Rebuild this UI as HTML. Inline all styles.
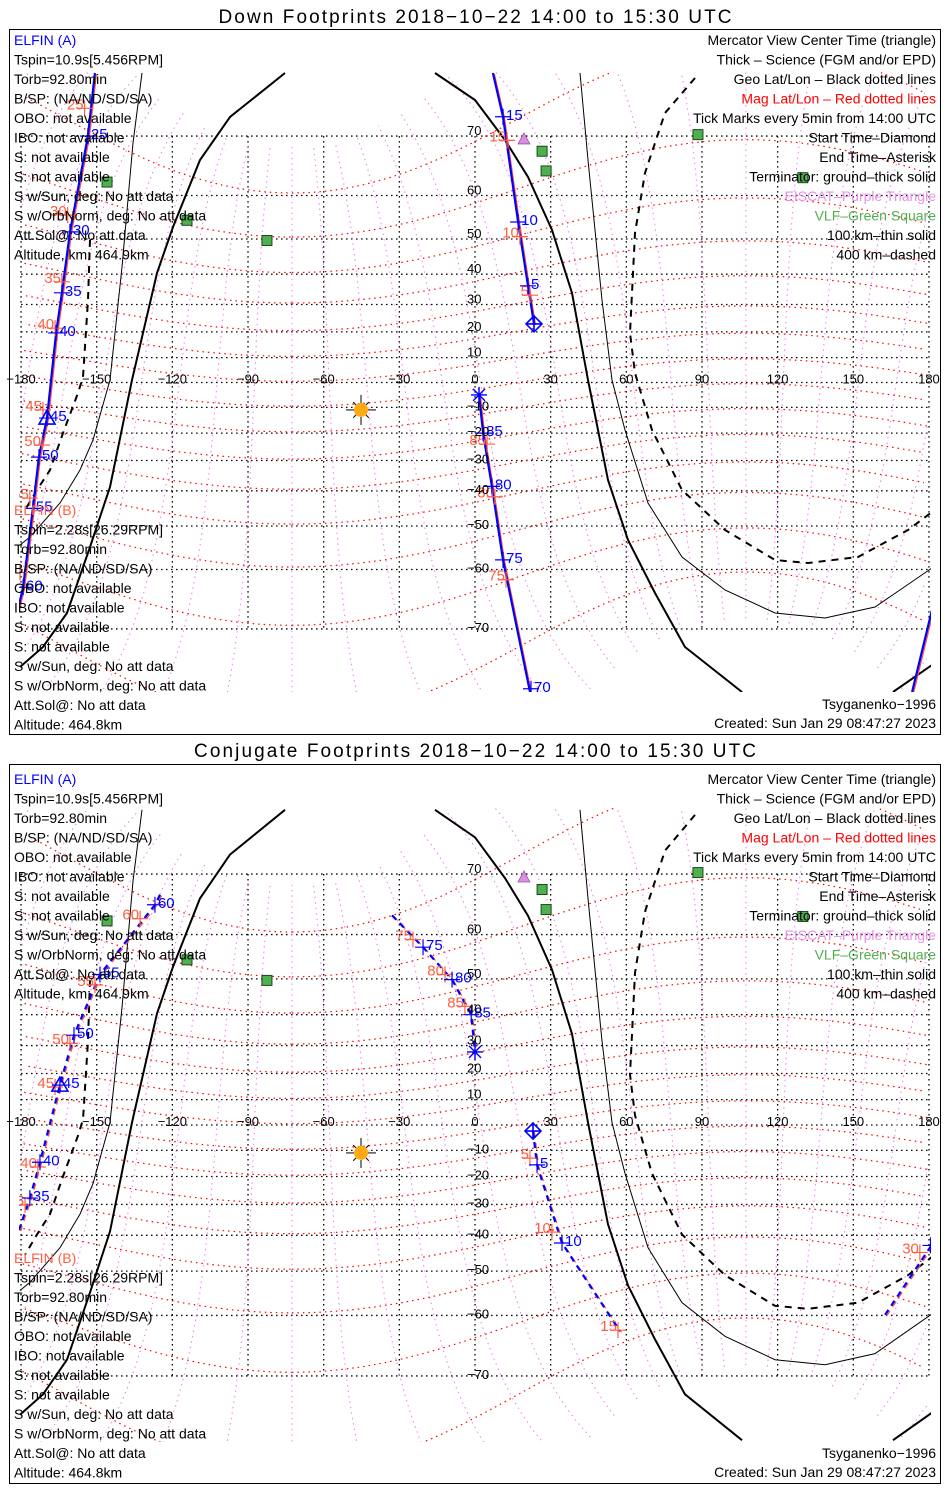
<!DOCTYPE html>
<html><head><meta charset="utf-8"><style>
html,body{margin:0;padding:0;background:#fff;overflow:hidden}
svg{display:block}
svg text{font-family:"Liberation Sans",sans-serif}
</style></head><body>
<svg id="s" width="950" height="1500" xmlns="http://www.w3.org/2000/svg">
<rect x="0" y="0" width="950" height="1500" fill="#fff"/>
<defs>
<clipPath id="c1"><rect x="19" y="72" width="912" height="620"/></clipPath>
<clipPath id="c2"><rect x="19" y="808" width="912" height="634"/></clipPath>
</defs>
<g id="p1">
<text x="475" y="23" text-anchor="middle" font-size="19" textLength="513">Down Footprints 2018−10−22 14:00 to 15:30 UTC</text>
<rect x="9.5" y="29.5" width="931" height="705" fill="none" stroke="#000"/>
<g id="m1" clip-path="url(#c1)"></g>
</g>
<g id="p2">
<text x="475" y="757" text-anchor="middle" font-size="19" textLength="562">Conjugate Footprints 2018−10−22 14:00 to 15:30 UTC</text>
<rect x="9.5" y="764.5" width="931" height="719" fill="none" stroke="#000"/>
<g id="m2" clip-path="url(#c2)"></g>
</g>
<g id="txt"></g>
</svg>
<script>
// ---------- data (lon/lat) ----------
const dA1Lon=[7.1,11.1,17.1,21.0,23.4], dA1Lat=[77.1,72.5,54.2,36.3,23.0];
const dA1TLbl=['15','10','5'], dA1TLon=[11.1,17.1,21.0], dA1TLat=[72.5,54.2,36.3];
const dA2Lon=[1.6,3.2,6.7,11.1,21.8], dA2Lat=[-5,-20,-38.6,-58,-77.1];
const dA2TLbl=['85','80','75','70'], dA2TLon=[3.2,6.7,11.1,22.2], dA2TLat=[-20,-38.6,-58,-76.8];
const dA3Lon=[-150.7,-153.5,-160.6,-163.8,-166.1,-169.7,-172.9,-175.3,-179.2,-180.8], dA3Lat=[77.1,70,51.8,34,19.6,-14.2,-28.8,-45.2,-63.4,-66.4];
const dA3TLbl=['25','30','35','40','45','50','55','60'], dA3TLon=[-153.5,-160.6,-163.8,-166.1,-169.7,-172.9,-175.3,-179.2], dA3TLat=[70,51.8,34,19.6,-14.2,-28.8,-45.2,-63.4];
const dA4Lon=[173.3,181.2], dA4Lat=[-77.1,-67.2];
const dBTLbl=['15','10','5','85','80','75','25','30','35','40','45','50','55','60'];
const dBTLon=[12.7,17.8,21.8,4.8,7.9,12.3,-154.8,-161.5,-163.8,-166.5,-171.3,-171.7,-176.5,-180.4];
const dBTLat=[69.4,50.6,33.2,-24.1,-41.8,-62,73.5,55.8,37.6,21.4,-11,-24.5,-42.2,-60.6];
const cA1Lon=[-124.9,-126.9,-148.7,-159,-164.6,-172.5,-176.5,-180.8], cA1Lat=[67,65.4,51.1,33.5,15.6,-14.6,-27.8,-38.4];
const cA1TLbl=['60','55','50','45','40','35'], cA1TLon=[-126.9,-148.7,-159,-164.6,-172.5,-176.5], cA1TLat=[65.4,51.1,33.5,15.6,-14.6,-27.8];
const cA2Lon=[-32.9,-20.6,-9.1,-1.5,0], cA2Lat=[63.6,57.4,49.8,40,27.8];
const cA2TLbl=['75','80','85'], cA2TLon=[-20.6,-9.1,-1.5], cA2TLat=[57.4,49.8,40];
const cA3Lon=[23,24.6,34.5,57.5], cA3Lat=[-2.4,-15.6,-42.3,-63];
const cA3TLbl=['5','10'], cA3TLon=[24.6,34.5], cA3TLat=[-15.6,-42.3];
const cA4Lon=[162.6,182.4], cA4Lat=[-59.9,-41.4];
const cA4TLbl=['30'], cA4TLon=[180.6], cA4TLat=[-43];
const cBTLbl=['60','55','50','45','40','35','75','80','85','5','10','15','30'];
const cBTLon=[-132.8,-150.7,-160.6,-166.5,-173.3,-178.4,-24.6,-11.9,-4,21.8,30.5,56.7,176.4];
const cBTLat=[63,48.4,30.8,14.9,-16.4,-30.2,59,51.1,42.5,-13,-39,-62.8,-45];
const vlfLon=[-145.9,-114.2,-82.5,26.6,28.2,88.4,130], vlfLat=[62.6,54.6,49.6,67.8,64.6,70.2,63.4];
const eisLon=[16.7,19.4], eisLat=[78,69.6];
const sunLon=-45.2, sunLat=-11.0;
// terminator reference geometry (traced on the down panel, px)
const termThick=[[[285,73],[230,117],[200,160],[173,227],[157,273],[132,380],[110,487],[90,547],[67,613],[43,647],[20,667]],
 [[435,73],[475,100],[505,140],[528,177],[552,230],[572,293],[588,380],[608,480],[628,540],[655,593],[685,647],[742,692]],
 [[893,692],[932,665]]];
const termThin=[[[142,73],[133,143],[122,267],[110,380],[93,440],[80,470],[60,503],[30,537],[20,545]],
 [[580,73],[588,160],[602,300],[612,380],[625,430],[648,503],[682,557],[725,590],[775,613],[825,618],[875,607],[932,568]]];
const termDash=[[[90,240],[88,300],[83,377],[78,393],[63,433],[50,470],[37,490],[25,510]],
 [[695,78],[665,113],[645,173],[635,233],[630,333],[635,373],[652,430],[682,490],[725,530],[775,560],[808,563],[858,557],[908,530],[932,512]]];
const latTicks=[70,60,50,40,30,20,10,0,-10,-20,-30,-40,-50,-60,-70];
const lonTicks=[-180,-150,-120,-90,-60,-30,0,30,60,90,120,150,180];

const NS='http://www.w3.org/2000/svg';
function mk(tag,a,p){const e=document.createElementNS(NS,tag);for(const k in a)e.setAttribute(k,a[k]);p.appendChild(e);return e;}
const P1={y0:382.5,k:142,g:document.getElementById('m1'),lab:document.getElementById('p1')};
const P2={y0:1125,k:144.6,g:document.getElementById('m2'),lab:document.getElementById('p2')};
function X(lon){return 475+lon*2.522;}
function Y(P,lat){lat=Math.max(-79,Math.min(79,lat));return P.y0-P.k*Math.log(Math.tan(Math.PI/4+lat*Math.PI/360));}
function pxLon(x){return (x-475)/2.522;}
function pxLat(y){return (2*Math.atan(Math.exp((382.5-y)/142))-Math.PI/2)*180/Math.PI;}
function line(P,lons,lats,st,name){
  const segs=[[]];
  for(let i=0;i<lons.length;i++){
    if(i>0&&Math.abs(lons[i]-lons[i-1])>180)segs.push([]);
    segs[segs.length-1].push(X(lons[i]).toFixed(1)+','+Y(P,lats[i]).toFixed(1));
  }
  segs.forEach(s=>{if(s.length<2)return;
    const e=mk('polyline',Object.assign({points:s.join(' '),fill:'none'},st),P.g);
    
    
  });
}
function dipole(phm,lam){
  const a=(90-80.5)*Math.PI/180, lp=-72.6*Math.PI/180;
  const f=phm*Math.PI/180,l=lam*Math.PI/180;
  const x=Math.cos(f)*Math.cos(l),y=Math.cos(f)*Math.sin(l),z=Math.sin(f);
  const x1=x*Math.cos(a)+z*Math.sin(a), z1=-x*Math.sin(a)+z*Math.cos(a);
  const Xg=x1*Math.cos(lp)-y*Math.sin(lp), Yg=x1*Math.sin(lp)+y*Math.cos(lp);
  return [Math.atan2(Yg,Xg)*180/Math.PI, Math.asin(z1)*180/Math.PI];
}

function drawPanel(P){
  const g=P.g;
  latTicks.forEach(la=>{const e=mk('line',{x1:X(-180),x2:X(180),y1:Y(P,la),y2:Y(P,la),stroke:'#000','stroke-width':1.3,'stroke-dasharray':'1.5,3.5'},g);
    
    });
  lonTicks.forEach(lo=>{const e=mk('line',{x1:X(lo),x2:X(lo),y1:Y(P,70),y2:Y(P,-70),stroke:'#000','stroke-width':1.3,'stroke-dasharray':'1.5,3.5'},g);
    
    });
  for(let lm=0;lm<360;lm+=15){const lo=[],la=[];
    for(let f=-78;f<=78;f+=2){const r=dipole(f,lm);lo.push(r[0]);la.push(r[1]);}
    line(P,lo,la,{stroke:'#ee88ee','stroke-width':1.1,'stroke-dasharray':'1.5,4'},'mag-meridian');}
  for(let f=-70;f<=70;f+=10){const lo=[],la=[];
    for(let lm=0;lm<=360;lm+=3){const r=dipole(f,lm);lo.push(r[0]);la.push(r[1]);}
    line(P,lo,la,{stroke:'#ff0000','stroke-width':1.2,'stroke-dasharray':'1.5,4'},'mag-parallel');}
  const tl=(arr,st,name)=>arr.forEach(s=>line(P,s.map(p=>pxLon(p[0])),s.map(p=>pxLat(p[1])),st,name));
  tl(termThick,{stroke:'#000','stroke-width':2},'terminator-ground');
  tl(termThin,{stroke:'#000','stroke-width':1},'terminator-100km');
  tl(termDash,{stroke:'#000','stroke-width':2,'stroke-dasharray':'7,6'},'terminator-400km');
  vlfLon.forEach((lo,i)=>{const e=mk('rect',{x:X(lo)-5,y:Y(P,vlfLat[i])-5,width:10,height:10,fill:'#50b050',stroke:'#1a4a1a','stroke-width':1},g);
    
    });
  eisLon.forEach((lo,i)=>{const x=X(lo),y=Y(P,eisLat[i]);
    const e=mk('polygon',{points:`${x-6},${y+5} ${x+6},${y+5} ${x},${y-6}`,fill:'#d890e0',stroke:'#a050b0','stroke-width':0.8},g);
    
    });
  const sx=X(sunLon),sy=Y(P,sunLat);
  for(let a=0;a<360;a+=45){const r=a*Math.PI/180;const e=mk('line',{x1:sx+7*Math.cos(r),y1:sy+7*Math.sin(r),x2:sx+(a%90?11:15)*Math.cos(r),y2:sy+(a%90?11:15)*Math.sin(r),stroke:'#000','stroke-width':1},g);
    
    }
  const sun=mk('circle',{cx:sx,cy:sy,r:7,fill:'#ffaa10'},g);
  
  
  lonTicks.forEach(lo=>{const e=mk('text',{x:X(lo),y:Y(P,0)+1,'text-anchor':'middle','font-size':13},P.lab);e.textContent=String(lo).replace('-','−');
    
    });
  latTicks.forEach(la=>{if(la===0)return;const e=mk('text',{x:467,y:Y(P,la)+(la>0?-1:3),'font-size':13},P.lab);e.textContent=String(la).replace('-','−');
    
    });
}
drawPanel(P1);drawPanel(P2);

function tracks(P,segs,dash){
  segs.forEach(s=>{
    line(P,s[0],s[1],{stroke:'#ff5030','stroke-width':1.2,'stroke-dasharray':dash?'6,5':'none',transform:'translate(1.5,1)'},'elfin-b-track');
    line(P,s[0],s[1],{stroke:'#0000ff','stroke-width':2.2,'stroke-dasharray':dash?'6,5':'none'},'elfin-a-track');
  });
}
function ticks(P,lbl,lon,lat,col,right){
  lbl.forEach((t,i)=>{const x=X(lon[i]),y=Y(P,lat[i]);
    const h=mk('path',{d:`M${x-8},${y}H${x+8}M${x},${y-8}V${y+8}`,stroke:col,'stroke-width':1.2,fill:'none'},P.g);
    
    
    const e=mk('text',{x:right?x+3:x-1,y:y+(right?3:1),'font-size':15,fill:col,'text-anchor':right?'start':'end'},P.g);
    e.textContent=t;
    
    });
}
function diamond(P,lo,la){const x=X(lo),y=Y(P,la);
  const e=mk('path',{d:`M${x},${y-8}L${x+8},${y}L${x},${y+8}L${x-8},${y}ZM${x-8},${y}H${x+8}M${x},${y-8}V${y+8}`,stroke:'#0000ff','stroke-width':1.6,fill:'none'},P.g);
  
  }
function aster(P,lo,la){const x=X(lo),y=Y(P,la);
  const e=mk('path',{d:`M${x-8},${y}H${x+8}M${x},${y-8}V${y+8}M${x-6},${y-6}L${x+6},${y+6}M${x-6},${y+6}L${x+6},${y-6}`,stroke:'#0000ff','stroke-width':1.4,fill:'none'},P.g);
  
  }
function tri(P,lo,la){const x=X(lo),y=Y(P,la);
  const e=mk('polygon',{points:`${x-8},${y+6} ${x+8},${y+6} ${x},${y-8}`,stroke:'#0000ff','stroke-width':1.6,fill:'none'},P.g);
  
  }

tracks(P1,[[dA1Lon,dA1Lat],[dA2Lon,dA2Lat],[dA3Lon,dA3Lat],[dA4Lon,dA4Lat]],false);
ticks(P1,dBTLbl,dBTLon,dBTLat,'#ff5f40',false);
ticks(P1,dA1TLbl,dA1TLon,dA1TLat,'#0000ff',true);
ticks(P1,dA2TLbl,dA2TLon,dA2TLat,'#0000ff',true);
ticks(P1,dA3TLbl,dA3TLon,dA3TLat,'#0000ff',true);
diamond(P1,dA1Lon[dA1Lon.length-1],dA1Lat[dA1Lat.length-1]);
aster(P1,dA2Lon[0],dA2Lat[0]);
tri(P1,dA3TLon[4],dA3TLat[4]);

tracks(P2,[[cA1Lon,cA1Lat],[cA2Lon,cA2Lat],[cA3Lon,cA3Lat],[cA4Lon,cA4Lat]],true);
ticks(P2,cBTLbl,cBTLon,cBTLat,'#ff5f40',false);
ticks(P2,cA1TLbl,cA1TLon,cA1TLat,'#0000ff',true);
ticks(P2,cA2TLbl,cA2TLon,cA2TLat,'#0000ff',true);
ticks(P2,cA3TLbl,cA3TLon,cA3TLat,'#0000ff',true);
ticks(P2,cA4TLbl,cA4TLon,cA4TLat,'#0000ff',true);
diamond(P2,cA3Lon[0],cA3Lat[0]);
aster(P2,cA2Lon[cA2Lon.length-1],cA2Lat[cA2Lat.length-1]);
tri(P2,cA1TLon[3],cA1TLat[3]);

const infoA=['Tspin=10.9s[5.456RPM]','Torb=92.80min','B/SP: (NA/ND/SD/SA)','OBO: not available','IBO: not available','S: not available','S: not available','S w/Sun, deg: No att data','S w/OrbNorm, deg: No att data','Att.Sol@: No att data','Altitude, km: 464.9km'];
const infoB=['Tspin=2.28s[26.29RPM]','Torb=92.80min','B/SP: (NA/ND/SD/SA)','OBO: not available','IBO: not available','S: not available','S: not available','S w/Sun, deg: No att data','S w/OrbNorm, deg: No att data','Att.Sol@: No att data','Altitude: 464.8km'];
const legend=[['Mercator View Center Time (triangle)','#000'],['Thick – Science (FGM and/or EPD)','#000'],['Geo Lat/Lon – Black dotted lines','#000'],['Mag Lat/Lon – Red dotted lines','#ff0000'],['Tick Marks every 5min from 14:00 UTC','#000'],['Start Time–Diamond','#000'],['End Time–Asterisk','#000'],['Terminator: ground–thick solid','#000'],['EISCAT–Purple Triangle','#e890e8'],['VLF–Green Square','#50b050'],['100 km–thin solid','#000'],['400 km–dashed','#000']];
const T=document.getElementById('txt');
function tx(x,y,s,col,anchor,name){const e=mk('text',{x:x,y:y,'font-size':14,fill:col,'text-anchor':anchor},T);e.textContent=s;
  
  }
[0,739].forEach((off,pi)=>{
  const bo=pi?749:0;
  tx(14,45+off,'ELFIN (A)','#0000ff','start','elfin-a-heading');
  infoA.forEach((s,i)=>tx(14,45+off+19.5*(i+1),s,'#000','start','elfin-a-info'));
  tx(14,515+off+(pi?9:0),'ELFIN (B)','#ff5f40','start','elfin-b-heading');
  infoB.forEach((s,i)=>tx(14,515+off+(pi?9:0)+19.5*(i+1),s,'#000','start','elfin-b-info'));
  legend.forEach((l,i)=>tx(936,45+off+19.5*i,l[0],l[1],'end','legend-line'));
  tx(936,709+bo,'Tsyganenko−1996','#000','end','model-name');
  tx(936,728+bo,'Created: Sun Jan 29 08:47:27 2023','#000','end','created-date');
});
</script>
</body></html>
